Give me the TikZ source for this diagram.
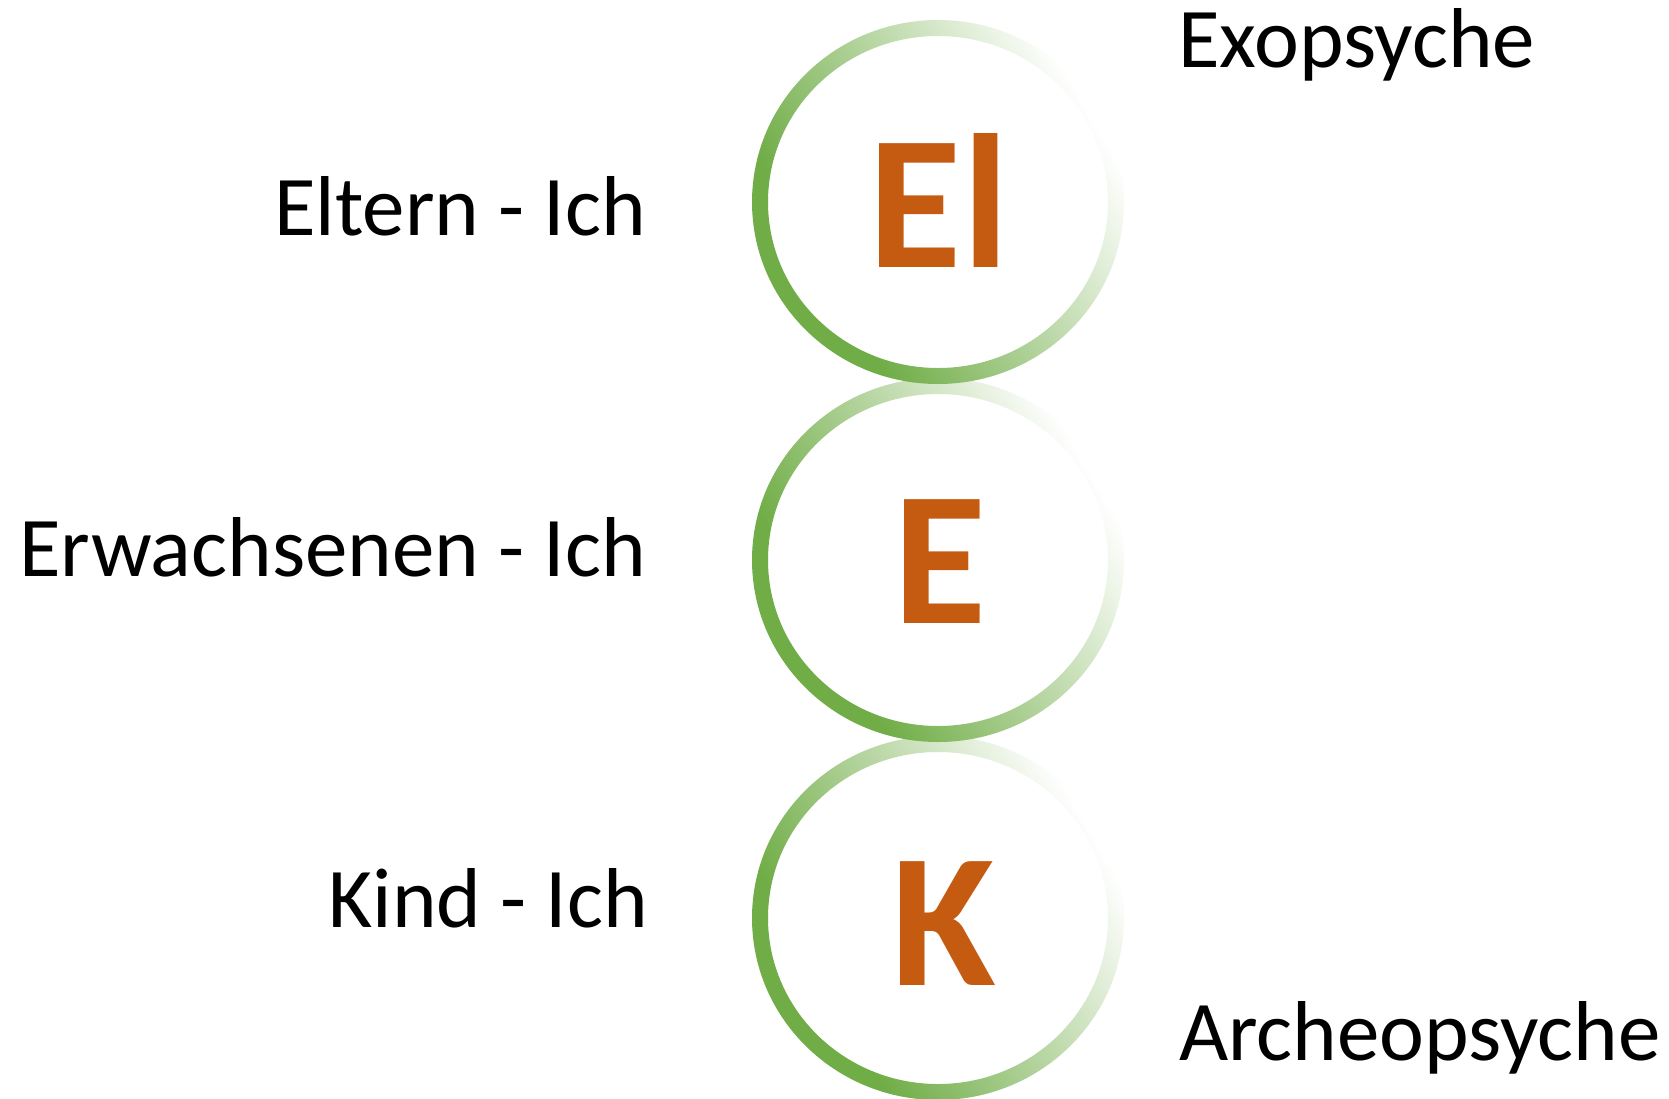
\documentclass[tikz,border=0pt]{standalone}
\usepackage{fontspec}
\setmainfont{Carlito}
\definecolor{ringgreen}{HTML}{70AD47}
\definecolor{letterorange}{HTML}{C55A11}
\pgfdeclarehorizontalshading{ringfade}{100bp}{color(0bp)=(ringgreen); color(32bp)=(ringgreen); color(74bp)=(white); color(100bp)=(white)}
\tikzset{
  ring/.style={shading=ringfade, shading angle=30, even odd rule},
  label/.style={inner sep=0pt, font=\fontsize{85}{100}\selectfont, text=black},
  letter/.style={inner sep=0pt, anchor=base, font=\fontsize{191}{220}\selectfont\bfseries, text=letterorange}
}
\begin{document}
\begin{tikzpicture}[x=1pt,y=-1pt]
\useasboundingbox[fill=white] (0,0) rectangle (1669,1098);
\coordinate (c1) at (938,202);
\coordinate (c2) at (938,560);
\coordinate (c3) at (938,918);
\foreach \c in {c3,c2,c1}{
  \shade[ring] (\c) ellipse[x radius=186pt, y radius=182pt] (\c) ellipse[x radius=170pt, y radius=166pt];
}
\node[letter] (el) at (939,267) {El};
\node[letter] (e) at (940,623) {E};
\node[letter] (k) at (944,985) {K};
\node[label, anchor=base east] (eltern) at (646,235) {Eltern - Ich};
\node[label, anchor=base east] (erw) at (646,576) {Erwachsenen - Ich};
\node[label, anchor=base east] (kind) at (648,927) {Kind - Ich};
\node[label, anchor=base west] (exo) at (1178,67) {Exopsyche};
\node[label, anchor=base west] (arch) at (1179,1060) {Archeopsyche};
\end{tikzpicture}
\end{document}
